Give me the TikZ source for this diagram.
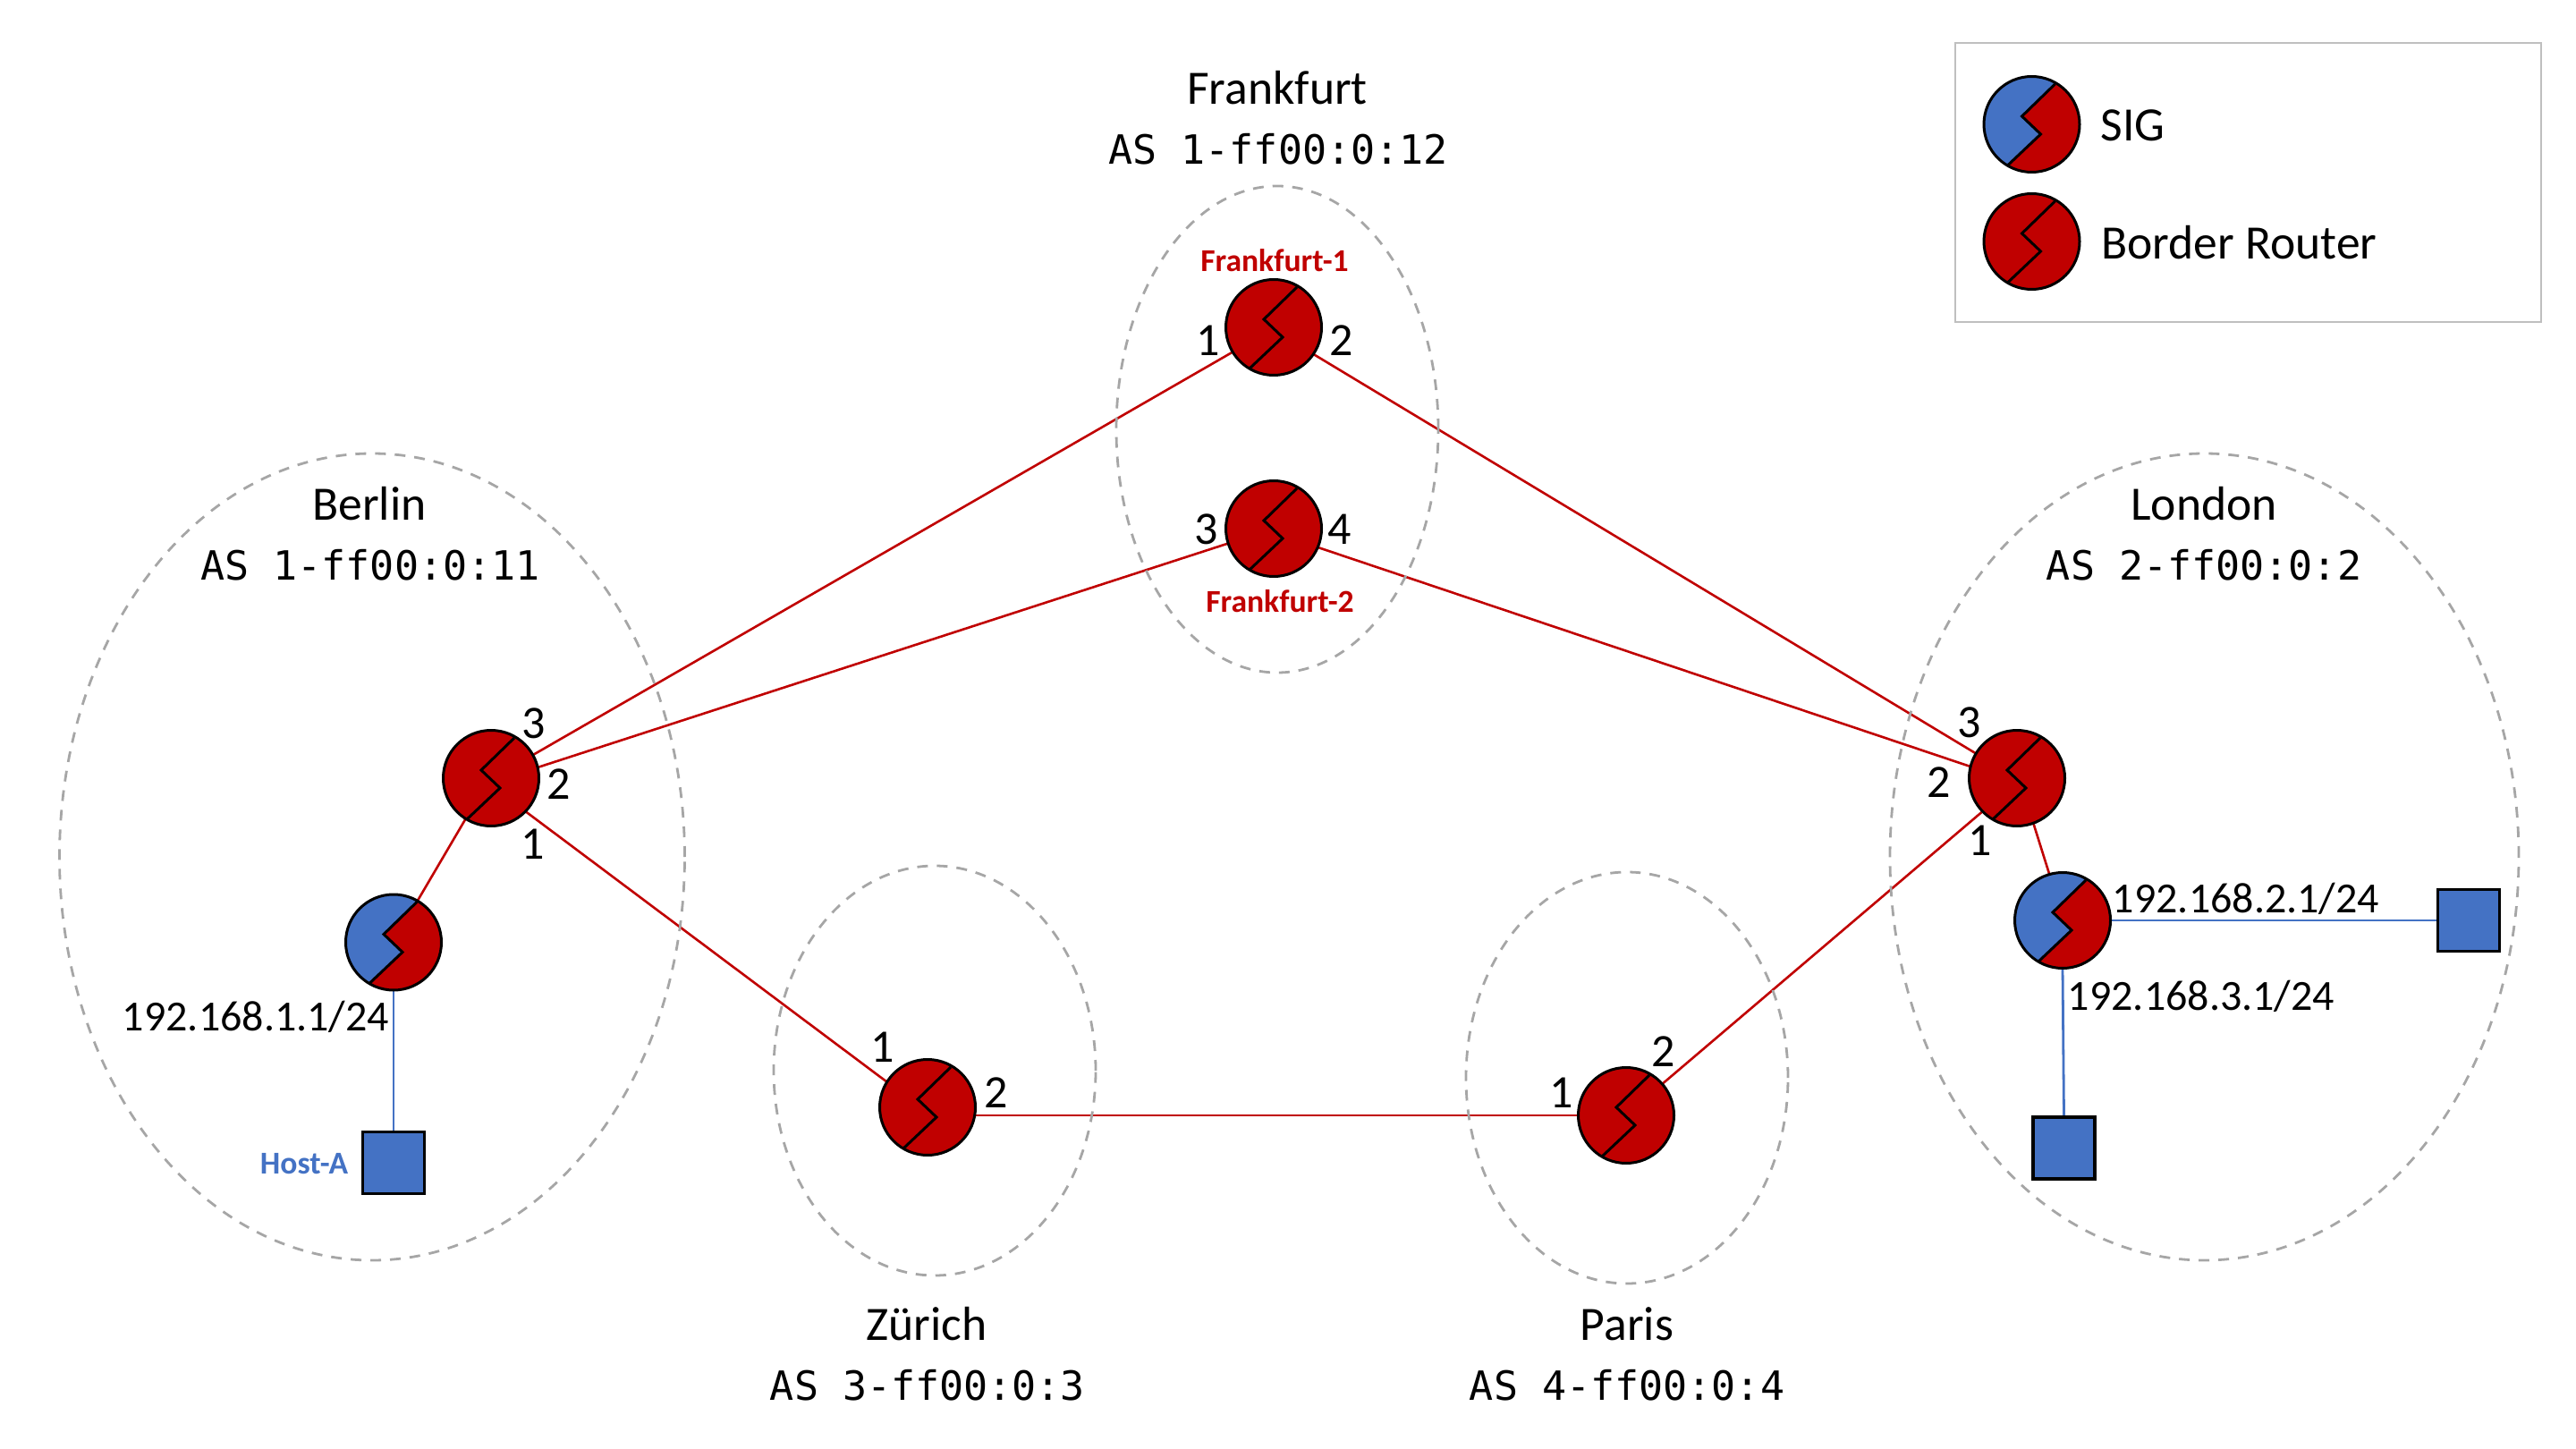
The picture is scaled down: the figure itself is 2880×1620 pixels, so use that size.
\documentclass[tikz,border=0pt]{standalone}
\usepackage{fontspec}
\setmainfont{Carlito}
\newfontfamily\asmono{DejaVu Sans Mono}
\usetikzlibrary{shapes.geometric,backgrounds}
\definecolor{rred}{HTML}{C00000}
\definecolor{bblue}{HTML}{4472C4}
\definecolor{dgray}{HTML}{A6A6A6}
\definecolor{lgray}{HTML}{BFBFBF}
\newcommand{\zigzagpath}{(26,-45) -- (-11,-9) -- (10,11) -- (-27,46)}
\tikzset{
  router/.style={circle,draw=black,line width=1.5pt,fill=rred,minimum size=53.5pt,inner sep=0pt,outer sep=0pt,
    path picture={\begin{scope}[shift={(path picture bounding box.center)}]
      \draw[black,line width=1.5pt,line join=miter] \zigzagpath;
    \end{scope}}},
  sig/.style={circle,draw=black,line width=1.5pt,fill=rred,minimum size=53.5pt,inner sep=0pt,outer sep=0pt,
    path picture={\begin{scope}[shift={(path picture bounding box.center)}]
      \fill[bblue] (26,-45) -- (-11,-9) -- (10,11) -- (-27,46) -- (-27,70) -- (-70,70) -- (-70,-70) -- (26,-70) -- cycle;
      \draw[black,line width=1.5pt,line join=miter] \zigzagpath;
    \end{scope}}},
  hostbox/.style={rectangle,draw=black,line width=1.8pt,fill=bblue,minimum size=34.5pt,inner sep=0pt,outer sep=0pt},
  region/.style={ellipse,draw=dgray,line width=1.4pt,dash pattern=on 6pt off 5pt,inner sep=0pt,outer sep=0pt},
  redlink/.style={draw=rred,line width=1.3pt},
  bluelink/.style={draw=bblue,line width=1.4pt},
  city/.style={inner sep=0pt,font=\fontsize{26.8}{30}\selectfont},
  asnum/.style={inner sep=0pt,font=\asmono\fontsize{22.5}{26}\selectfont},
  port/.style={inner sep=0pt,font=\fontsize{26}{30}\selectfont},
  ipaddr/.style={inner sep=0pt,font=\fontsize{24}{28}\selectfont},
  redname/.style={inner sep=0pt,text=rred,font=\bfseries\fontsize{17.8}{20}\selectfont},
  bluename/.style={inner sep=0pt,text=bblue,font=\bfseries\fontsize{17.8}{20}\selectfont},
}
\begin{document}
\begin{tikzpicture}[x=0.5pt,y=-0.5pt]
\useasboundingbox (0,0) rectangle (2880,1620);
% legend
\node[rectangle,draw=lgray,line width=1pt,minimum width=327.5pt,minimum height=156pt,inner sep=0pt] (legend) at (2513.5,204) {};
\node[sig] (legsig) at (2271.5,139) {};
\node[router] (legbr) at (2271.5,270) {};
\node[city,anchor=west] (legsigt) at (2348,140) {SIG};
\node[city,anchor=west] (legbrt) at (2349,271) {Border Router};
% regions
\node[region,minimum width=349.5pt,minimum height=451pt] (rberlin) at (416,958) {};
\node[region,minimum width=180pt,minimum height=272pt] (rfrank) at (1428,480) {};
\node[region,minimum width=180pt,minimum height=229pt] (rzurich) at (1045,1197) {};
\node[region,minimum width=180pt,minimum height=230pt] (rparis) at (1819,1205) {};
\node[region,minimum width=351.5pt,minimum height=451pt] (rlondon) at (2464.5,958) {};
% routers
\node[router] (f1) at (1424,366) {};
\node[router] (f2) at (1424,591) {};
\node[router] (ber) at (549,870) {};
\node[sig] (bersig) at (440,1053.5) {};
\node[router] (zur) at (1037,1238) {};
\node[router] (par) at (1818,1247) {};
\node[router] (lon) at (2255,870) {};
\node[sig] (lonsig) at (2306,1029) {};
% hosts
\node[hostbox] (hosta) at (440,1300) {};
\node[hostbox] (hostb) at (2760,1029) {};
\node[hostbox] (hostc) at (2307.5,1283.5) {};
% links
\begin{scope}[on background layer]
\draw[redlink] (ber.29) -- (f1.211);
\draw[redlink] (ber.13.5) -- (f2.198);
\draw[redlink] (f1.-34) -- (lon.149);
\draw[redlink] (f2.-23) -- (lon.166.5);
\draw[redlink] (ber.-44) -- (zur.148);
\draw[redlink] (zur.-9.6 |- par.west) -- (par.west);
\draw[redlink] (par.41) -- (lon.224);
\draw[redlink] (ber.238) -- (bersig.60);
\draw[redlink] (lon.-70) -- (lonsig.106);
\draw[bluelink] (bersig.270) -- (hosta.north);
\draw[bluelink] (lonsig.0) -- (hostb.west);
\draw[bluelink] (lonsig.270) -- (hostc.north);
\end{scope}
% region labels
\node[city] (tfrank) at (1428,98.5) {Frankfurt};
\node[asnum] (afrank) at (1429,167) {AS 1-ff00:0:12};
\node[city] (tberlin) at (413,563) {Berlin};
\node[asnum] (aberlin) at (414,632) {AS 1-ff00:0:11};
\node[city] (tlondon) at (2464,563) {London};
\node[asnum] (alondon) at (2464,632) {AS 2-ff00:0:2};
\node[city] (tzurich) at (1036,1480) {Zürich};
\node[asnum] (azurich) at (1037,1549) {AS 3-ff00:0:3};
\node[city] (tparis) at (1819,1480) {Paris};
\node[asnum] (aparis) at (1819,1549) {AS 4-ff00:0:4};
% names
\node[redname] (nf1) at (1425,291) {Frankfurt-1};
\node[redname] (nf2) at (1431,672) {Frankfurt-2};
\node[bluename] (nhost) at (340,1301) {Host-A};
% addresses
\node[ipaddr] (ip1) at (286,1137) {192.168.1.1/24};
\node[ipaddr] (ip2) at (2511,1005) {192.168.2.1/24};
\node[ipaddr] (ip3) at (2461,1114) {192.168.3.1/24};
% ports
\node[port] (pf1) at (1351,381) {1};
\node[port] (pf2) at (1500,381) {2};
\node[port] (pf3) at (1349,592) {3};
\node[port] (pf4) at (1498,592) {4};
\node[port] (pb3) at (597,809) {3};
\node[port] (pb2) at (625,877) {2};
\node[port] (pb1) at (596,943.5) {1};
\node[port] (pl3) at (2202,808) {3};
\node[port] (pl2) at (2168,875) {2};
\node[port] (pl1) at (2214,940) {1};
\node[port] (pz1) at (987,1171) {1};
\node[port] (pz2) at (1114,1222) {2};
\node[port] (pp1) at (1746,1222) {1};
\node[port] (pp2) at (1860,1176) {2};
\end{tikzpicture}
\end{document}
